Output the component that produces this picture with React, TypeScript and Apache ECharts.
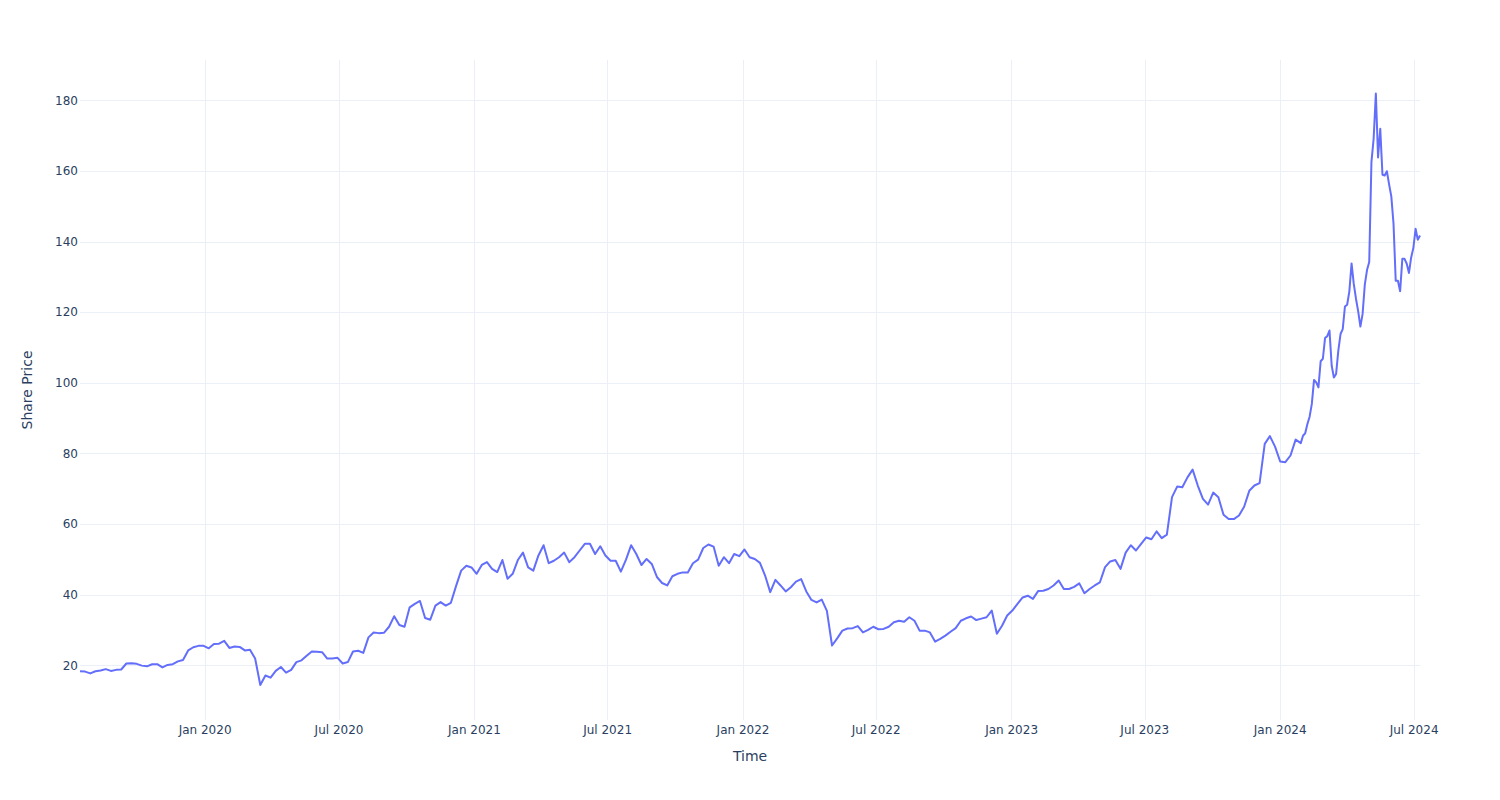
import React, { useEffect, useRef } from "react";
import * as echarts from "echarts";

// Weekly closing prices (one value per week) from 2019-07-15
const WEEKLY_START = "2019-07-15";
const weeklyPrices = [
  18.4, 18.3, 17.8, 18.4, 18.6, 19.0, 18.5, 18.8, 18.9, 20.6,
  20.7, 20.5, 20.0, 19.8, 20.4, 20.4, 19.5, 20.2, 20.4, 21.2,
  21.6, 24.3, 25.2, 25.6, 25.6, 24.9, 26.1, 26.2, 27.0, 25.0,
  25.4, 25.3, 24.3, 24.5, 22.0, 14.5, 17.2, 16.6, 18.5, 19.6,
  18.0, 18.8, 21.0, 21.5, 22.8, 24.0, 23.9, 23.8, 22.0, 22.0,
  22.2, 20.6, 21.0, 24.0, 24.2, 23.6, 28.0, 29.4, 29.2, 29.3,
  31.0, 34.0, 31.5, 31.0, 36.5, 37.5, 38.3, 33.5, 33.0, 37.0,
  38.0, 37.0, 37.8, 42.5, 46.9, 48.3, 47.8, 46.0, 48.5, 49.3,
  47.4, 46.5, 49.9, 44.6, 46.0, 49.9, 52.0, 47.8, 46.9, 51.2,
  54.1, 49.0, 49.7, 50.7, 52.0, 49.3, 50.7, 52.6, 54.5, 54.5,
  51.6, 53.8, 51.2, 49.7, 49.7, 46.6, 50.0, 54.1, 51.6, 48.5,
  50.2, 48.8, 45.1, 43.4, 42.7, 45.3, 46.0, 46.4, 46.4, 49.0,
  50.0, 53.3, 54.3, 53.7, 48.3, 50.7, 49.0, 51.6, 51.0, 52.9,
  50.7, 50.2, 49.1, 45.5, 40.8, 44.3, 42.7, 41.0, 42.2, 43.8,
  44.5, 41.0, 38.6, 37.9, 38.7, 35.5, 25.7, 27.7, 29.9, 30.5,
  30.6, 31.2, 29.4, 30.1, 31.0, 30.3, 30.4, 31.0, 32.3, 32.7,
  32.4, 33.7, 32.7, 29.9, 29.9, 29.4, 26.8, 27.6, 28.5, 29.6,
  30.6, 32.7, 33.4, 33.9, 32.9, 33.3, 33.7, 35.6, 29.0, 31.3,
  34.2, 35.6, 37.5, 39.3, 39.8, 38.9, 41.1, 41.2, 41.7, 42.7,
  44.1, 41.7, 41.7, 42.3, 43.3, 40.5, 41.7, 42.7, 43.6, 47.9,
  49.5, 49.9, 47.4, 52.0, 54.1, 52.6, 54.5, 56.3, 55.8, 58.0,
  56.1, 57.1, 67.7, 70.7, 70.5, 73.3, 75.5, 71.0, 67.2, 65.6,
  69.0, 67.7, 62.7, 61.5, 61.5, 62.5, 65.0, 69.5, 71.0, 71.7,
  82.8, 85.0, 82.0, 77.8, 77.6, 79.5, 84.0,
];

// Prices every 3 days from 2024-01-29 (the volatile final stretch)
const DENSE_START = "2024-01-29";
const DENSE_STEP_DAYS = 3;
const densePrices = [
  83.0, 85.1, 85.8, 88.4, 90.5, 94.1, 100.9, 100.2, 98.8, 106.2,
  106.9, 112.8, 113.3, 114.9, 104.9, 101.6, 102.6, 109.2, 113.9, 115.3,
  121.7, 122.2, 126.0, 133.9, 128.1, 123.9, 120.3, 116.0, 119.6, 127.9,
  132.0, 134.3, 162.6, 169.2, 182.0, 163.9, 172.0, 159.0, 158.8, 160.0,
  156.3, 152.9, 145.2, 129.0, 129.0, 126.0, 135.2, 135.2, 133.8, 131.2,
  135.6, 138.3, 143.7, 140.6, 141.8,
];

const xTickDates = [
  "2020-01-01", "2020-07-01", "2021-01-01", "2021-07-01", "2022-01-01",
  "2022-07-01", "2023-01-01", "2023-07-01", "2024-01-01", "2024-07-01",
];
const yTicks = [20, 40, 60, 80, 100, 120, 140, 160, 180];
const Y_MIN = 4.6;
const Y_MAX = 191.5;

const MONTHS = ["Jan", "Feb", "Mar", "Apr", "May", "Jun", "Jul", "Aug", "Sep", "Oct", "Nov", "Dec"];
const DAY = 86400000;
const FONT = '"DejaVu Sans", Verdana, sans-serif';
const TEXT = "#2a3f5f";
const GRID = "#ebf0f8";

function parseDate(s: string): number {
  const [y, m, d] = s.split("-").map(Number);
  return Date.UTC(y, m - 1, d);
}

export default function App() {
  const ref = useRef<HTMLDivElement>(null);

  useEffect(() => {
    if (!ref.current) return;
    const chart = echarts.init(ref.current, null, { renderer: "svg" });

    const data: [number, number][] = [];
    const w0 = parseDate(WEEKLY_START);
    weeklyPrices.forEach((v, i) => data.push([w0 + i * 7 * DAY, v]));
    const d0 = parseDate(DENSE_START);
    densePrices.forEach((v, k) => data.push([d0 + k * DENSE_STEP_DAYS * DAY, v]));

    const xMin = data[0][0];
    const xMax = data[data.length - 1][0];
    const xTicks = xTickDates.map(parseDate);

    chart.setOption({
      animation: false,
      backgroundColor: "#ffffff",
      grid: { left: 80, right: 80, top: 60, bottom: 80, containLabel: false },
      xAxis: {
        type: "value",
        min: xMin,
        max: xMax,
        name: "Time",
        nameLocation: "middle",
        nameGap: 29,
        nameTextStyle: { color: TEXT, fontSize: 14, fontFamily: FONT },
        axisLine: { show: false },
        axisTick: { show: false, customValues: xTicks },
        axisLabel: {
          customValues: xTicks,
          color: TEXT,
          fontSize: 12,
          fontFamily: FONT,
          margin: 4,
          formatter: (v: number) => {
            const d = new Date(v);
            return `${MONTHS[d.getUTCMonth()]} ${d.getUTCFullYear()}`;
          },
        },
        splitLine: { show: true, lineStyle: { color: GRID, width: 1 } },
      },
      yAxis: {
        type: "value",
        min: Y_MIN,
        max: Y_MAX,
        name: "Share Price",
        nameLocation: "middle",
        nameGap: 46,
        nameTextStyle: { color: TEXT, fontSize: 14, fontFamily: FONT },
        axisLine: { show: false },
        axisTick: { show: false, customValues: yTicks },
        axisLabel: {
          customValues: yTicks,
          color: TEXT,
          fontSize: 12,
          fontFamily: FONT,
          margin: 2,
        },
        splitLine: { show: true, lineStyle: { color: GRID, width: 1 } },
      },
      series: [
        {
          type: "line",
          data,
          showSymbol: false,
          symbol: "none",
          lineStyle: { color: "#636efa", width: 2, join: "round" },
          itemStyle: { color: "#636efa" },
        },
      ],
    });

    return () => chart.dispose();
  }, []);

  return (
    <div
      ref={ref}
      style={{ position: "fixed", left: 0, top: 0, width: 1500, height: 800, background: "#fff" }}
    />
  );
}
